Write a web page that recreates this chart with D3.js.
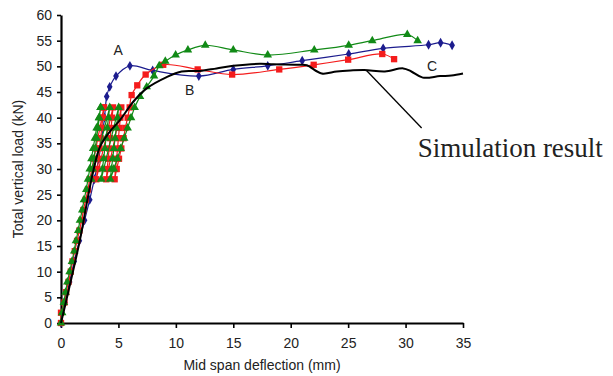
<!DOCTYPE html>
<html>
<head>
<meta charset="utf-8">
<script src="https://cdn.jsdelivr.net/npm/d3@7"></script>
<style>
  html, body { margin: 0; padding: 0; background: #fff; }
  #chart { width: 613px; height: 376px; }
  #chart text { font-family: "Liberation Sans", Arial, sans-serif; fill: #222; }
</style>
</head>
<body>
<div id="chart"></div>
<script>
// tick labels
const xTicks = [0, 5, 10, 15, 20, 25, 30, 35];
const yTicks = [0, 5, 10, 15, 20, 25, 30, 35, 40, 45, 50, 55, 60];

// load levels (kN) of the marker rows
const risingLoads = [0, 2, 4, 6, 8, 10, 12, 14, 16, 18, 20, 22, 24, 26, 28, 30, 32, 34, 36, 38, 40, 42];
const blueRisingLoads = [0, 4, 8, 12, 16, 20, 24, 28, 32, 36, 40];
const unloadLoads = [42, 40, 38, 36, 34, 32, 30, 28];
const reloadLoads = [30, 32, 34, 36, 38, 40, 42];

// specimen A (blue diamonds), deflection in mm
const aRisingDefl = [0, 0.35, 0.75, 1.15, 1.6, 2.05, 2.5, 2.9, 3.3, 3.55, 3.8];
const aEnvelope = [
  [3.98, 44.1], [4.24, 46.0], [4.79, 48.1], [6.0, 50.1], [7.98, 49.2], [12.0, 48.1],
  [15.0, 49.4], [18.0, 50.1], [21.0, 51.1], [25.05, 52.4], [28.05, 53.5],
  [32.0, 54.2], [33.05, 54.6], [34.05, 54.1]
];

// specimen B (red squares)
const bRisingDefl = [0, 0, 0.3, 0.45, 0.65, 0.85, 1.0, 1.2, 1.4, 1.6, 1.8, 1.95, 2.15, 2.35, 2.5, 2.7, 2.85, 3.05, 3.2, 3.4, 3.55, 3.74];
const bCycleDefl = [
  [3.74, 3.64, 3.55, 3.45, 3.36, 3.26, 3.17, 3.07],
  [4.53, 4.45, 4.36, 4.28, 4.19, 4.11, 4.02, 3.94],
  [5.25, 5.17, 5.08, 5.0, 4.92, 4.84, 4.75, 4.67]
];
const bReloadDefl = [4.85, 5.05, 5.25, 5.45, 5.6, 5.8, 5.98];
const bEnvelope = [
  [6.15, 44.4], [6.64, 46.3], [7.37, 48.4], [8.9, 50.3], [11.9, 49.4], [14.9, 48.4],
  [19.0, 49.4], [22.0, 50.3], [25.0, 51.3], [27.97, 52.4], [29.0, 51.4]
];

// specimen C (green triangles)
const cRisingDefl = [0, 0.1, 0.25, 0.4, 0.55, 0.75, 0.95, 1.15, 1.3, 1.5, 1.65, 1.85, 2.0, 2.2, 2.35, 2.5, 2.65, 2.8, 2.95, 3.1, 3.3, 3.45];
const cCycleDefl = [
  [3.45, 3.33, 3.22, 3.10, 2.99, 2.87, 2.76, 2.64],
  [4.24, 4.13, 4.03, 3.92, 3.82, 3.71, 3.61, 3.50],
  [5.02, 4.92, 4.81, 4.71, 4.60, 4.50, 4.39, 4.29]
];
const cReloadDefl = [4.6, 4.9, 5.2, 5.5, 5.8, 6.1, 6.41];
const cEnvelope = [
  [6.88, 44.1], [7.46, 46.0], [8.1, 48.1], [8.55, 50.1], [9.08, 51.0], [9.98, 52.2],
  [11.05, 53.2], [12.56, 54.1], [15.0, 53.2], [18.0, 52.2], [22.05, 53.2],
  [25.05, 54.1], [27.1, 55.0], [30.15, 56.2], [31.05, 55.0]
];

// simulation result (black line)
const simCurve = [
  [0, 0], [1.65, 16.2], [2.3, 24], [2.8, 29.5], [3.39, 34.3], [4.26, 37.3], [5.13, 39.5],
  [6.29, 43.1], [7.46, 45.7], [9.2, 47.9], [10.5, 49.0], [12.1, 49.1], [13.55, 49.6],
  [15.0, 50.1], [17.3, 50.5], [18.5, 50.4], [20.8, 50.3], [21.4, 50.2], [22.7, 48.6],
  [24.0, 49.0], [25.2, 49.2], [26.4, 49.3], [28.2, 49.0], [29.8, 49.6], [30.5, 49.0],
  [31.5, 47.8], [33.0, 48.1], [34.0, 48.2], [35.0, 48.6]
];

const zip = (defl, loads) => defl.map((d, i) => [d, loads[i]]);

class LoadDeflectionChart {

  constructor(el) {
    this.el = el;
    this.width = 613;
    this.height = 376;
    this.margin = {top: 15, right: 150, bottom: 53, left: 61};

    this.appendSVG();
    this.createScales();
    this.attachAxes();
    this.drawSeries();
    this.drawLabels();
  }

  appendSVG() {
    this.svg = d3.select(this.el)
      .append('svg')
      .attr('width', this.width)
      .attr('height', this.height);
  }

  createScales() {
    this.xScale = d3.scaleLinear()
      .domain([0, 35])
      .range([this.margin.left, this.width - this.margin.right]);

    this.yScale = d3.scaleLinear()
      .domain([0, 60])
      .range([this.height - this.margin.bottom, this.margin.top]);
  }

  attachAxes() {
    const xAxis = this.svg.append('g')
      .attr('transform', 'translate(0,' + (this.height - this.margin.bottom) + ')')
      .call(d3.axisBottom(this.xScale).tickValues(xTicks).tickSize(5).tickSizeOuter(0).tickPadding(10));

    const yAxis = this.svg.append('g')
      .attr('transform', 'translate(' + this.margin.left + ',0)')
      .call(d3.axisLeft(this.yScale).tickValues(yTicks).tickSize(4).tickSizeOuter(0).tickPadding(5));

    [xAxis, yAxis].forEach(g => {
      g.select('.domain').attr('stroke', '#000').attr('stroke-width', 2.2);
      g.selectAll('.tick line').attr('stroke', '#000').attr('stroke-width', 1.6);
      g.selectAll('.tick text').style('font-size', '14px').attr('fill', '#222');
    });

    this.svg.append('text')
      .attr('x', (this.xScale(0) + this.xScale(35)) / 2)
      .attr('y', 370)
      .attr('text-anchor', 'middle')
      .style('font-size', '14px')
      .text('Mid span deflection (mm)');

    this.svg.append('text')
      .attr('transform', 'translate(23,' + ((this.yScale(0) + this.yScale(60)) / 2) + ') rotate(-90)')
      .attr('text-anchor', 'middle')
      .style('font-size', '14px')
      .text('Total vertical load (kN)');
  }

  line(curve) {
    return d3.line()
      .x(d => this.xScale(d[0]))
      .y(d => this.yScale(d[1]))
      .curve(curve);
  }

  drawSpecimen(linearPart, envelope, color, symbol, size) {
    const smoothPart = [linearPart[linearPart.length - 1]].concat(envelope);
    const g = this.svg.append('g');

    g.append('path')
      .datum(linearPart)
      .attr('fill', 'none')
      .attr('stroke', color)
      .attr('stroke-width', 1.2)
      .attr('d', this.line(d3.curveLinear));

    g.append('path')
      .datum(smoothPart)
      .attr('fill', 'none')
      .attr('stroke', color)
      .attr('stroke-width', 1.2)
      .attr('d', this.line(d3.curveCatmullRom.alpha(0.5)));

    g.selectAll('path.marker')
      .data(linearPart.concat(envelope))
      .enter()
      .append('path')
      .attr('class', 'marker')
      .attr('transform', d => 'translate(' + this.xScale(d[0]) + ',' + this.yScale(d[1]) + ')')
      .attr('fill', color)
      .attr('d', d3.symbol().type(symbol).size(size));
  }

  drawSeries() {
    // A
    this.drawSpecimen(zip(aRisingDefl, blueRisingLoads), aEnvelope, '#1c1c8e', d3.symbolDiamond, 28);

    // B
    let bPath = zip(bRisingDefl, risingLoads);
    bCycleDefl.forEach(c => { bPath = bPath.concat(zip(c, unloadLoads)); });
    bPath = bPath.concat(zip(bReloadDefl, reloadLoads));
    this.drawSpecimen(bPath, bEnvelope, '#f41c1c', d3.symbolSquare, 40);

    // C
    let cPath = zip(cRisingDefl, risingLoads);
    cCycleDefl.forEach(c => { cPath = cPath.concat(zip(c, unloadLoads)); });
    cPath = cPath.concat(zip(cReloadDefl, reloadLoads));
    this.drawSpecimen(cPath, cEnvelope, '#118a16', d3.symbolTriangle, 32);

    // simulation
    this.svg.append('path')
      .datum(simCurve)
      .attr('fill', 'none')
      .attr('stroke', '#000')
      .attr('stroke-width', 2)
      .attr('stroke-linejoin', 'round')
      .attr('d', this.line(d3.curveCatmullRom.alpha(0.5)));
  }

  drawLabels() {
    const labels = [['A', 4.98, 53.2], ['B', 11.2, 45.4], ['C', 32.3, 50.1]];
    this.svg.selectAll('text.tag')
      .data(labels)
      .enter()
      .append('text')
      .attr('class', 'tag')
      .attr('x', d => this.xScale(d[1]))
      .attr('y', d => this.yScale(d[2]))
      .attr('text-anchor', 'middle')
      .attr('dy', '0.36em')
      .style('font-size', '14px')
      .text(d => d[0]);

    // leader to the simulation curve
    const leader = [[26.6, 49.2], [31.4, 38.0]];
    this.svg.append('path')
      .datum(leader)
      .attr('fill', 'none')
      .attr('stroke', '#000')
      .attr('stroke-width', 1.3)
      .attr('d', this.line(d3.curveLinear));

    this.svg.append('text')
      .attr('x', this.xScale(31.05))
      .attr('y', this.yScale(32.3))
      .style('font-family', '"Liberation Serif", "Times New Roman", serif')
      .style('font-size', '27px')
      .attr('fill', '#111')
      .text('Simulation result');
  }
}

new LoadDeflectionChart(document.getElementById('chart'));
</script>
</body>
</html>
